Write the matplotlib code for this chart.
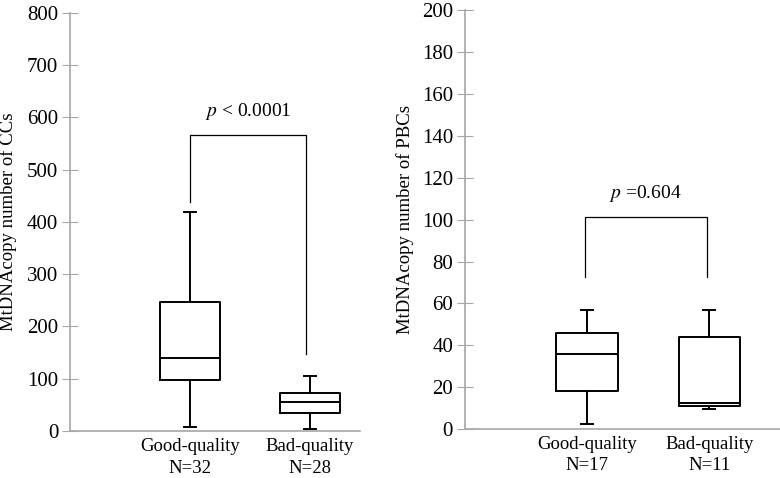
import matplotlib.pyplot as plt

plt.rcParams['font.family'] = 'Liberation Serif'
plt.rcParams['mathtext.fontset'] = 'stix'

# box statistics (whisker low, q1, median, q3, whisker high)
groups = ['Good-quality', 'Bad-quality']
cc_n = [32, 28]
cc_lo = [8, 4]
cc_q1 = [97, 34]
cc_med = [140, 56]
cc_q3 = [246, 72]
cc_hi = [418, 106]

pbc_n = [17, 11]
pbc_lo = [2.2, 9.7]
pbc_q1 = [18, 11]
pbc_med = [35.8, 12.6]
pbc_q3 = [46, 44]
pbc_hi = [57, 57]

cc_p = '$p$ < 0.0001'
pbc_p = '$p$ =0.604'

grey = '#a6a6a6'


def stats(lo, q1, med, q3, hi):
    return [dict(whislo=lo[i], q1=q1[i], med=med[i], q3=q3[i], whishi=hi[i], fliers=[])
            for i in range(len(lo))]


def panel(ax, st, n, ymax, step, xmax, ylab, labx, bracket, ptext):
    props = dict(color='black', linewidth=1.4)
    ax.bxp(st, positions=[1, 2], widths=0.5, showfliers=False,
           boxprops=props, medianprops=props, whiskerprops=props,
           capprops=props, capwidths=0.1)
    ax.set_xlim(0, xmax)
    ax.set_ylim(0, ymax)
    ax.set_yticks(range(0, ymax + 1, step))
    ax.set_xticks([1, 2])
    ax.set_xticklabels(['%s\nN=%d' % (g, k) for g, k in zip(groups, n)],
                       fontsize=13.5, linespacing=1.35)
    ax.tick_params(axis='x', length=0, pad=5)
    ax.tick_params(axis='y', direction='inout', length=11, color=grey,
                   labelsize=15, pad=3)
    for s in ['top', 'right']:
        ax.spines[s].set_visible(False)
    for s in ['left', 'bottom']:
        ax.spines[s].set_color(grey)
        ax.spines[s].set_linewidth(1.2)
    ax.set_ylabel(ylab, fontsize=13.5)
    ax.yaxis.set_label_coords(labx, 0.5)
    x1, x2, top, l1, l2 = bracket
    ax.plot([x1, x1, x2, x2], [l1, top, top, l2], color='black', linewidth=0.9)
    ax.text((x1 + x2) / 2, top + ymax * 0.03, ptext, ha='center', va='bottom',
            fontsize=14)


fig = plt.figure(figsize=(7.8, 4.78), dpi=100)
ax1 = fig.add_axes([0.0897, 0.0983, 0.372, 0.875])
ax2 = fig.add_axes([0.596, 0.1025, 0.404, 0.876])

panel(ax1, stats(cc_lo, cc_q1, cc_med, cc_q3, cc_hi), cc_n, 800, 100, 2.42,
      'MtDNAcopy number of CCs', -0.183, (1, 1.97, 567, 438, 147), cc_p)
panel(ax2, stats(pbc_lo, pbc_q1, pbc_med, pbc_q3, pbc_hi), pbc_n, 200, 20, 2.58,
      'MtDNAcopy number of PBCs', -0.163, (0.98, 1.98, 101.3, 72.7, 72.7), pbc_p)

fig.savefig('out.png', dpi=100)
